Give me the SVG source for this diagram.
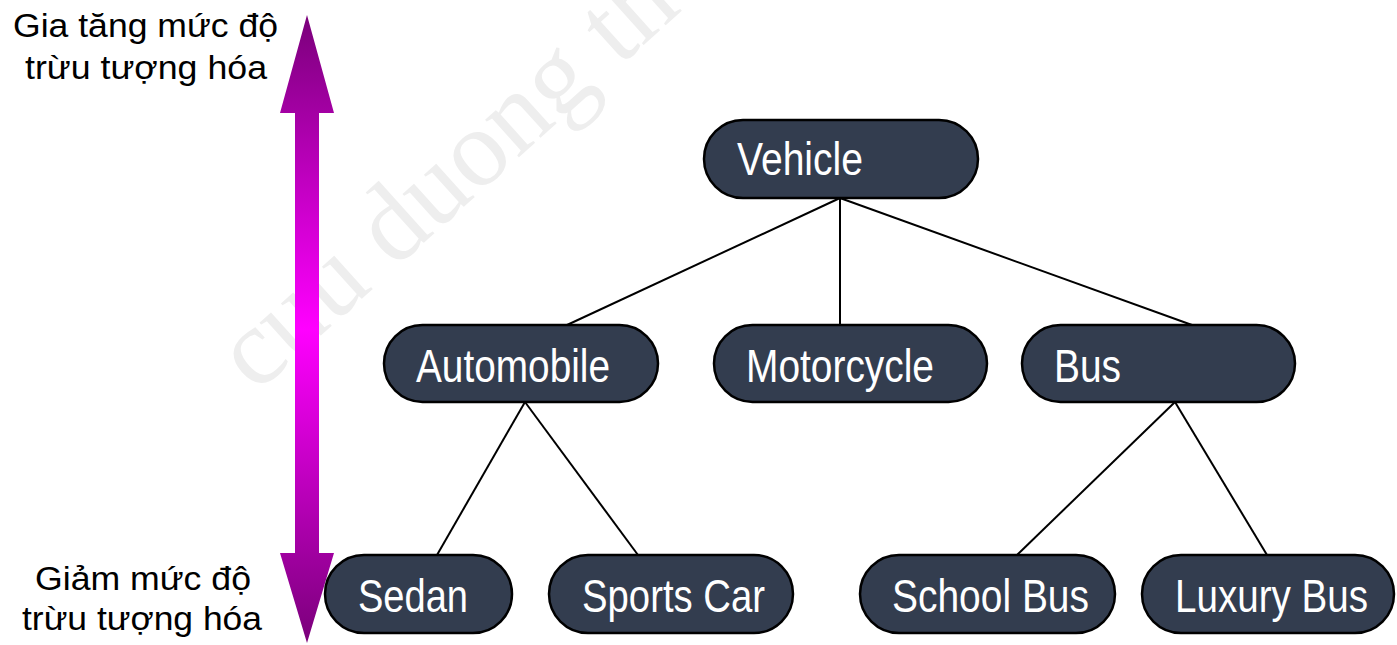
<svg xmlns="http://www.w3.org/2000/svg" width="1397" height="645" viewBox="0 0 1397 645">
<defs>
<linearGradient id="arrowGrad" gradientUnits="userSpaceOnUse" x1="0" y1="15" x2="0" y2="643">
<stop offset="0" stop-color="#7a007a"/>
<stop offset="0.5" stop-color="#ff00ff"/>
<stop offset="1" stop-color="#7a007a"/>
</linearGradient>
<style>
.node rect{fill:#333d4f;stroke:#000;stroke-width:2.5}
.node text{fill:#fff;font-family:"Liberation Sans Narrow","Liberation Sans",Arial,sans-serif;font-size:46px}
.lbl{fill:#000;font-family:"Liberation Sans",Arial,sans-serif;font-size:34px}
.wm{fill:#eeeeee;font-family:"Liberation Serif","Times New Roman",serif;font-size:110px}
#connectors line{stroke:#000;stroke-width:2}
</style>
</defs>
<rect width="1397" height="645" fill="#fff"/>
<text class="wm" transform="translate(256,394) rotate(-42)">cuu duong th</text>
<g id="axis">
<polygon points="307,15 334,113 319,113 319,553 334,553 307,643 280,553 295,553 295,113 280,113" fill="url(#arrowGrad)"/>
<text class="lbl" x="13" y="37" textLength="265" lengthAdjust="spacingAndGlyphs">Gia tăng mức độ</text>
<text class="lbl" x="25" y="79" textLength="242" lengthAdjust="spacingAndGlyphs">trừu tượng hóa</text>
<text class="lbl" x="35" y="590" textLength="216" lengthAdjust="spacingAndGlyphs">Giảm mức độ</text>
<text class="lbl" x="22" y="630" textLength="240" lengthAdjust="spacingAndGlyphs">trừu tượng hóa</text>
</g>
<g id="connectors">
<line x1="840" y1="198" x2="567" y2="325"/>
<line x1="840" y1="198" x2="840" y2="325"/>
<line x1="840" y1="198" x2="1192" y2="325"/>
<line x1="525" y1="402" x2="437" y2="555"/>
<line x1="525" y1="402" x2="638" y2="555"/>
<line x1="1175" y1="402" x2="1017" y2="555"/>
<line x1="1175" y1="402" x2="1267" y2="555"/>
</g>
<g id="vehicle" class="node"><rect x="704" y="120" width="274" height="78" rx="39"/><text x="737" y="175" textLength="126" lengthAdjust="spacingAndGlyphs">Vehicle</text></g>
<g id="automobile" class="node"><rect x="384" y="325" width="274" height="77" rx="38.5"/><text x="416" y="382" textLength="194" lengthAdjust="spacingAndGlyphs">Automobile</text></g>
<g id="motorcycle" class="node"><rect x="714" y="325" width="273" height="77" rx="38.5"/><text x="746" y="382" textLength="188" lengthAdjust="spacingAndGlyphs">Motorcycle</text></g>
<g id="bus" class="node"><rect x="1022" y="325" width="273" height="77" rx="38.5"/><text x="1054" y="382" textLength="67" lengthAdjust="spacingAndGlyphs">Bus</text></g>
<g id="sedan" class="node"><rect x="325" y="555" width="187" height="78" rx="39"/><text x="358" y="612" textLength="110" lengthAdjust="spacingAndGlyphs">Sedan</text></g>
<g id="sportscar" class="node"><rect x="549" y="555" width="244" height="78" rx="39"/><text x="582" y="612" textLength="183" lengthAdjust="spacingAndGlyphs">Sports Car</text></g>
<g id="schoolbus" class="node"><rect x="860" y="555" width="255" height="78" rx="39"/><text x="892" y="612" textLength="197" lengthAdjust="spacingAndGlyphs">School Bus</text></g>
<g id="luxurybus" class="node"><rect x="1142" y="555" width="252" height="78" rx="39"/><text x="1175" y="612" textLength="193" lengthAdjust="spacingAndGlyphs">Luxury Bus</text></g>
</svg>
